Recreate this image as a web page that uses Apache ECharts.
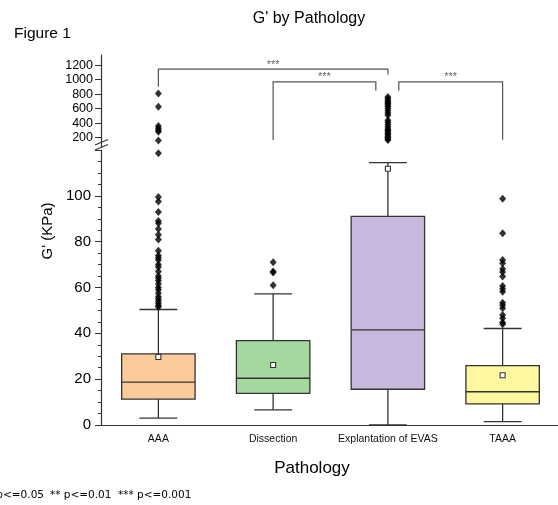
<!DOCTYPE html>
<html>
<head>
<meta charset="utf-8">
<script src="https://cdn.jsdelivr.net/npm/echarts@6/dist/echarts.min.js"></script>
<style>
  html, body { margin: 0; padding: 0; background: #fff; }
  #chart { width: 558px; height: 505px; }
</style>
</head>
<body>
<div id="chart"></div>
<script>
// G' (storage modulus) by pathology: box summaries, outliers and pairwise significance
const categories = ['AAA', 'Dissection', 'Explantation of EVAS', 'TAAA'];

// box summaries (KPa)
const whiskerLow  = [3.0, 6.6, 0.0, 1.5];
const q1          = [11.3, 13.8, 15.6, 9.2];
const median      = [18.7, 20.4, 41.5, 14.5];
const q3          = [31.0, 36.8, 91.0, 25.9];
const whiskerHigh = [50.4, 57.2, 114.5, 42.1];
const means       = [29.7, 26.2, 111.8, 21.7];

// outliers in the 0-120 range
const aaaOutliers = [118.6, 99.5, 97.5, 93, 89, 88, 85.5, 83, 81, 76, 74, 73, 72, 70, 69, 67, 65, 64, 63, 61.5, 60, 59, 57.5, 56, 55, 54, 53, 52, 51.5];
const dissectionOutliers = [71, 67, 66.5, 61];
const taaaOutliers = [98.7, 83.7, 72, 70.6, 68.1, 66.8, 64.8, 60.7, 59.3, 58.1, 53.4, 52.3, 51, 48, 46.6, 44.7, 44];

// outliers above the axis break
const aaaHighOutliers = [810, 625, 360, 330, 300, 280, 160];
const evasHighOutliers = [760, 735, 710, 690, 670, 650, 630, 600, 570, 540, 510, 440, 410, 380, 350, 320, 300, 280, 260, 240, 220, 200, 180, 165];

// tick labels
const lowerTicks = [0, 20, 40, 60, 80, 100];
const upperTicks = [200, 400, 600, 800, 1000, 1200];
const upperMinorTicks = [100, 300, 500, 700, 900, 1100, 1300];

// significance brackets: [left category, right category, bar level, left leg end, right leg end]
const bracketPairs  = [[0, 2], [1, 2], [2, 3]];
const bracketLevels = [1145, 970, 970];
const bracketLegEnds = [[900, 1070], [165, 845], [845, 170]];
const bracketLabels = ['***', '***', '***'];
const legendNotes = ['* p<=0.05', '** p<=0.01', '*** p<=0.001'];

const boxColors = ['#fccb9b', '#a3d99e', '#c8b8de', '#fdf79f'];
const FONT = 'Liberation Sans, Arial, sans-serif';
const INK = '#333';

const boxData = categories.map((c, i) => [i, whiskerLow[i], q1[i], median[i], q3[i], whiskerHigh[i], means[i]]);

function pts(catIdx, arr) { return arr.map(v => [categories[catIdx], v]); }
const lowOutliers = [].concat(pts(0, aaaOutliers), pts(1, dissectionOutliers), pts(3, taaaOutliers));
const highOutliers = [].concat(pts(0, aaaHighOutliers), pts(2, evasHighOutliers));

const bracketData = bracketPairs.map((p, i) => [p[0], p[1], bracketLevels[i], bracketLegEnds[i][0], bracketLegEnds[i][1], i]);

const chart = echarts.init(document.getElementById('chart'));

function renderBox(params, api) {
  const idx = api.value(0);
  const band = api.size([1, 0])[0];
  const half = band * 0.32;
  const capHalf = band * 0.165;
  const p = k => api.coord([idx, api.value(k)]);
  const lo = p(1), b1 = p(2), md = p(3), b3 = p(4), hi = p(5), mn = p(6);
  const x = lo[0];
  const line = (x1, y1, x2, y2) => ({ type: 'line', shape: { x1, y1, x2, y2 }, style: { stroke: INK, lineWidth: 1.3 } });
  return {
    type: 'group',
    children: [
      line(x, hi[1], x, b3[1]),
      line(x, b1[1], x, lo[1]),
      line(x - capHalf, hi[1], x + capHalf, hi[1]),
      line(x - capHalf, lo[1], x + capHalf, lo[1]),
      { type: 'rect', shape: { x: x - half, y: b3[1], width: half * 2, height: b1[1] - b3[1] },
        style: { fill: boxColors[idx], stroke: INK, lineWidth: 1.3 } },
      line(x - half, md[1], x + half, md[1]),
      { type: 'rect', shape: { x: x - 2.5, y: mn[1] - 2.5, width: 5, height: 5 },
        style: { fill: '#fff', stroke: INK, lineWidth: 1.1 } }
    ]
  };
}

function renderBracket(params, api) {
  const a = api.value(0), b = api.value(1), k = api.value(5);
  const band = api.size([1, 0])[0];
  // legs that share a box with another bracket are nudged aside
  const nudgeL = k === 2 ? band * 0.095 : 0;
  const nudgeR = k === 1 ? -band * 0.105 : 0;
  const top = api.coord([a, api.value(2)]);
  const xl = api.coord([a, 0])[0] + nudgeL;
  const xr = api.coord([b, 0])[0] + nudgeR;
  const yl = api.coord([a, api.value(3)])[1];
  const yr = api.coord([b, api.value(4)])[1];
  return {
    type: 'group',
    children: [
      { type: 'polyline', shape: { points: [[xl, yl], [xl, top[1]], [xr, top[1]], [xr, yr]] },
        style: { stroke: '#555', lineWidth: 1.2, fill: null } },
      { type: 'text', x: (xl + xr) / 2, y: top[1] + 1,
        style: { text: bracketLabels[k], fill: '#666', font: '11px ' + FONT, align: 'center', verticalAlign: 'bottom' } }
    ]
  };
}

const xAxisBase = {
  type: 'category',
  data: categories,
  boundaryGap: true,
  axisLine: { lineStyle: { color: INK, width: 1.2 } },
  splitLine: { show: false }
};

chart.setOption({
  animation: false,
  backgroundColor: '#fff',
  grid: [
    { left: 101, right: -2, top: 55, height: 92, outerBoundsMode: 'none' },
    { left: 101, right: -2, top: 150, height: 275, outerBoundsMode: 'none' }
  ],
  xAxis: [
    Object.assign({}, xAxisBase, { gridIndex: 0, show: false }),
    Object.assign({}, xAxisBase, {
      gridIndex: 1,
      axisTick: { alignWithLabel: true, length: 6, lineStyle: { color: INK } },
      axisLabel: { interval: 0, color: '#111', fontFamily: FONT, fontSize: 10.5, margin: 9 }
    })
  ],
  yAxis: [
    {
      gridIndex: 0, type: 'value', min: 70, max: 1340,
      axisLine: { show: true, lineStyle: { color: INK, width: 1.2 } },
      axisTick: { show: true, length: 6, customValues: upperTicks, lineStyle: { color: INK } },
      axisLabel: { customValues: upperTicks, showMinLabel: true, showMaxLabel: true, hideOverlap: false,
        color: '#000', fontFamily: FONT, fontSize: 12.5, margin: 8, formatter: v => String(v) },
      splitLine: { show: false }
    },
    {
      gridIndex: 0, type: 'value', min: 70, max: 1340,
      axisLine: { show: false },
      axisTick: { show: true, length: 3, customValues: upperMinorTicks, lineStyle: { color: INK } },
      axisLabel: { show: false },
      splitLine: { show: false }
    },
    {
      gridIndex: 1, type: 'value', min: 0, max: 120, interval: 20,
      axisLine: { show: true, lineStyle: { color: INK, width: 1.2 } },
      axisTick: { show: true, length: 6, lineStyle: { color: INK } },
      minorTick: { show: true, splitNumber: 4, length: 3, lineStyle: { color: INK } },
      axisLabel: { color: '#000', fontFamily: FONT, fontSize: 15, margin: 10,
        formatter: v => (lowerTicks.indexOf(v) >= 0 ? String(v) : '') },
      splitLine: { show: false }
    }
  ],
  series: [
    {
      type: 'custom', xAxisIndex: 1, yAxisIndex: 2,
      renderItem: renderBox, data: boxData, clip: false, z: 2
    },
    {
      type: 'scatter', xAxisIndex: 1, yAxisIndex: 2, data: lowOutliers,
      symbol: 'diamond', symbolSize: [7, 8], itemStyle: { color: '#000' }, z: 3, clip: false
    },
    {
      type: 'scatter', xAxisIndex: 0, yAxisIndex: 0, data: highOutliers,
      symbol: 'diamond', symbolSize: [7, 8], itemStyle: { color: '#000' }, z: 3, clip: false
    },
    {
      type: 'custom', xAxisIndex: 0, yAxisIndex: 0,
      renderItem: renderBracket, data: bracketData, clip: false, z: 4
    }
  ],
  graphic: [
    { type: 'text', left: 14, top: 26, style: { text: 'Figure 1', font: '15.5px ' + FONT, fill: '#000' } },
    { type: 'text', x: 309, y: 19, style: { text: "G' by Pathology", font: '16px ' + FONT, fill: '#000', align: 'center', verticalAlign: 'middle' } },
    { type: 'text', x: 48, y: 231, rotation: Math.PI / 2,
      style: { text: "G' (KPa)", font: '15px ' + FONT, fill: '#000', align: 'center', verticalAlign: 'middle' } },
    { type: 'text', x: 312, y: 468, style: { text: 'Pathology', font: '17px ' + FONT, fill: '#000', align: 'center', verticalAlign: 'middle' } },
    { type: 'text', x: 44, y: 495, style: { text: legendNotes[0], font: '10.5px DejaVu Sans, sans-serif', fill: '#000', align: 'right', verticalAlign: 'middle' } },
    { type: 'text', x: 50, y: 495, style: { text: legendNotes[1], font: '10.5px DejaVu Sans, sans-serif', fill: '#000', verticalAlign: 'middle' } },
    { type: 'text', x: 118, y: 495, style: { text: legendNotes[2], font: '10.5px DejaVu Sans, sans-serif', fill: '#000', verticalAlign: 'middle' } },
    // axis break marks
    { type: 'line', shape: { x1: 95, y1: 145, x2: 108, y2: 139.5 }, style: { stroke: INK, lineWidth: 1.1 } },
    { type: 'line', shape: { x1: 95, y1: 150, x2: 108, y2: 144.5 }, style: { stroke: INK, lineWidth: 1.1 } }
  ]
});
</script>
</body>
</html>
